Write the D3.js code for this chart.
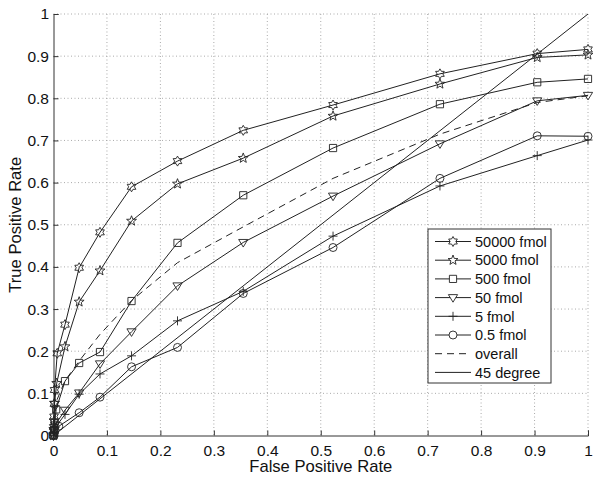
<!DOCTYPE html>
<html><head>
<meta charset="utf-8">
<script src="https://d3js.org/d3.v7.min.js"></script>
<style>
  body { margin: 0; background: #fff; }
  text { font-family: "Liberation Sans", Arial, sans-serif; fill: #111; }
</style>
</head>
<body>
<svg id="roc" width="600" height="479"></svg>
<script>
// tick values / labels
const xTicks = [0, 0.1, 0.2, 0.3, 0.4, 0.5, 0.6, 0.7, 0.8, 0.9, 1];
const yTicks = [0, 0.1, 0.2, 0.3, 0.4, 0.5, 0.6, 0.7, 0.8, 0.9, 1];
const tickLabels = ["0", "0.1", "0.2", "0.3", "0.4", "0.5", "0.6", "0.7", "0.8", "0.9", "1"];

// ROC points [false positive rate, true positive rate]
const roc50000 = [[0,0],[0.0005,0.02],[0.001,0.045],[0.0015,0.075],[0.002,0.108],[0.007,0.195],[0.0215,0.263],[0.048,0.398],[0.087,0.482],[0.146,0.59],[0.232,0.651],[0.355,0.724],[0.523,0.784],[0.723,0.858],[0.905,0.906],[1,0.916]];
const roc5000  = [[0,0],[0.0005,0.015],[0.001,0.035],[0.002,0.077],[0.006,0.124],[0.0215,0.211],[0.048,0.317],[0.087,0.391],[0.146,0.509],[0.232,0.597],[0.355,0.658],[0.523,0.758],[0.723,0.834],[0.905,0.897],[1,0.903]];
const roc500   = [[0,0],[0.001,0.012],[0.002,0.03],[0.005,0.062],[0.0215,0.129],[0.048,0.172],[0.087,0.198],[0.146,0.319],[0.232,0.457],[0.355,0.57],[0.523,0.682],[0.723,0.786],[0.905,0.838],[1,0.846]];
const roc50    = [[0,0],[0.001,0.01],[0.003,0.025],[0.0215,0.06],[0.048,0.101],[0.087,0.17],[0.146,0.246],[0.232,0.355],[0.355,0.458],[0.523,0.568],[0.723,0.692],[0.905,0.794],[1,0.807]];
const roc5     = [[0,0],[0.001,0.008],[0.004,0.02],[0.0215,0.05],[0.048,0.098],[0.087,0.146],[0.146,0.189],[0.232,0.272],[0.355,0.342],[0.523,0.473],[0.723,0.592],[0.905,0.664],[1,0.701]];
const roc05    = [[0,0],[0.001,0.005],[0.003,0.012],[0.01,0.022],[0.048,0.054],[0.087,0.091],[0.146,0.163],[0.232,0.209],[0.355,0.337],[0.523,0.446],[0.723,0.61],[0.905,0.711],[1,0.71]];
const rocOverall = [[0,0],[0.005,0.08],[0.0215,0.13],[0.05,0.18],[0.087,0.24],[0.146,0.32],[0.232,0.41],[0.355,0.495],[0.523,0.61],[0.723,0.715],[0.905,0.79],[1,0.806]];
const diagonal = [[0,0],[1,1]];

const seriesNames = ["50000 fmol", "5000 fmol", "500 fmol", "50 fmol", "5 fmol", "0.5 fmol", "overall", "45 degree"];
const seriesData = [roc50000, roc5000, roc500, roc50, roc5, roc05, rocOverall, diagonal];
const seriesMarker = ["hexagram", "pentagram", "square", "triangle", "plus", "circle", null, null];

let svg = d3.select("svg#roc");
let margin = {top: 14, left: 53.5, right: 12, bottom: 43.5};
let chartWidth = 600 - margin.left - margin.right;
let chartHeight = 479 - margin.top - margin.bottom;

let xScale = d3.scaleLinear().domain([0, 1]).range([0, chartWidth]);
let yScale = d3.scaleLinear().domain([0, 1]).range([chartHeight, 0]);

let chart = svg.append("g")
  .attr("transform", "translate(" + margin.left + "," + margin.top + ")");

// dotted grid
chart.append("g").selectAll("line.gx").data(xTicks.slice(1)).enter().append("line")
  .attr("x1", d => xScale(d)).attr("x2", d => xScale(d))
  .attr("y1", 0).attr("y2", chartHeight)
  .attr("stroke", "#aaa").attr("stroke-width", 1).attr("stroke-dasharray", "1,2.5");
chart.append("g").selectAll("line.gy").data(yTicks.slice(1)).enter().append("line")
  .attr("y1", d => yScale(d)).attr("y2", d => yScale(d))
  .attr("x1", 0).attr("x2", chartWidth)
  .attr("stroke", "#aaa").attr("stroke-width", 1).attr("stroke-dasharray", "1,2.5");

// axes, ticks pointing inward
let xAxis = d3.axisBottom(xScale).tickValues(xTicks).tickSize(-5).tickPadding(9)
  .tickFormat((d, i) => tickLabels[i]);
let yAxis = d3.axisLeft(yScale).tickValues(yTicks).tickSize(-5).tickPadding(4.5)
  .tickFormat((d, i) => tickLabels[i]);

let gx = chart.append("g").attr("transform", "translate(0," + chartHeight + ")").call(xAxis);
let gy = chart.append("g").call(yAxis);
[gx, gy].forEach(g => {
  g.select(".domain").attr("stroke", "#333");
  g.selectAll(".tick line").attr("stroke", "#333");
  g.selectAll(".tick text").attr("font-size", 15.5).attr("fill", "#111")
    .attr("font-family", "Liberation Sans, Arial, sans-serif");
});

// marker shapes
function markerPath(type, r) {
  if (type === "circle") return d3.symbol().type(d3.symbolCircle).size(Math.PI * r * r)();
  if (type === "square") return "M" + (-r) + "," + (-r) + "h" + 2 * r + "v" + 2 * r + "h" + (-2 * r) + "Z";
  if (type === "plus") return "M" + (-r) + ",0H" + r + "M0," + (-r) + "V" + r;
  if (type === "triangle") return "M" + (-r) + "," + (-0.65 * r) + "L" + r + "," + (-0.65 * r) + "L0," + (r) + "Z";
  let n = type === "hexagram" ? 6 : 5;
  let inner = type === "hexagram" ? r / Math.sqrt(3) : r * 0.42;
  let pts = [];
  for (let k = 0; k < 2 * n; k++) {
    let a = -Math.PI / 2 + k * Math.PI / n;
    let rr = k % 2 === 0 ? r : inner;
    pts.push([rr * Math.cos(a), rr * Math.sin(a)]);
  }
  return "M" + pts.map(p => p[0].toFixed(2) + "," + p[1].toFixed(2)).join("L") + "Z";
}
const markerRadius = {hexagram: 5, pentagram: 5.2, square: 3.6, triangle: 4.6, plus: 4.5, circle: 4};

let line = d3.line().x(d => xScale(d[0])).y(d => yScale(d[1]));

seriesData.forEach((data, i) => {
  chart.append("path")
    .datum(data)
    .attr("d", line)
    .attr("fill", "none")
    .attr("stroke", "#222")
    .attr("stroke-width", 1)
    .attr("stroke-dasharray", seriesNames[i] === "overall" ? "7,5" : null);
  if (seriesMarker[i]) {
    chart.append("g").selectAll("path").data(data).enter().append("path")
      .attr("transform", d => "translate(" + xScale(d[0]) + "," + yScale(d[1]) + ")")
      .attr("d", markerPath(seriesMarker[i], markerRadius[seriesMarker[i]]))
      .attr("fill", "none")
      .attr("stroke", "#222")
      .attr("stroke-width", 0.9);
  }
});

// axis titles
svg.append("text")
  .attr("x", margin.left + chartWidth / 2).attr("y", 472)
  .attr("text-anchor", "middle").attr("font-size", 16.6)
  .text("False Positive Rate");
svg.append("text")
  .attr("transform", "translate(21," + (margin.top + chartHeight / 2) + ") rotate(-90)")
  .attr("text-anchor", "middle").attr("font-size", 16.6)
  .text("True Positive Rate");

// legend
let legend = svg.append("g").attr("transform", "translate(428,229)");
legend.append("rect")
  .attr("width", 123).attr("height", 154)
  .attr("fill", "#fff").attr("stroke", "#333").attr("stroke-width", 1);
seriesNames.forEach((name, i) => {
  let y = 12.5 + i * 18.7;
  legend.append("line")
    .attr("x1", 7).attr("x2", 43).attr("y1", y).attr("y2", y)
    .attr("stroke", "#222").attr("stroke-width", 1)
    .attr("stroke-dasharray", name === "overall" ? "7,5" : null);
  if (seriesMarker[i]) {
    legend.append("path")
      .attr("transform", "translate(25," + y + ")")
      .attr("d", markerPath(seriesMarker[i], markerRadius[seriesMarker[i]]))
      .attr("fill", "#fff").attr("stroke", "#222").attr("stroke-width", 0.9);
  }
  legend.append("text")
    .attr("x", 47).attr("y", y + 5.2)
    .attr("font-size", 14.5)
    .text(name);
});
</script>
</body>
</html>
